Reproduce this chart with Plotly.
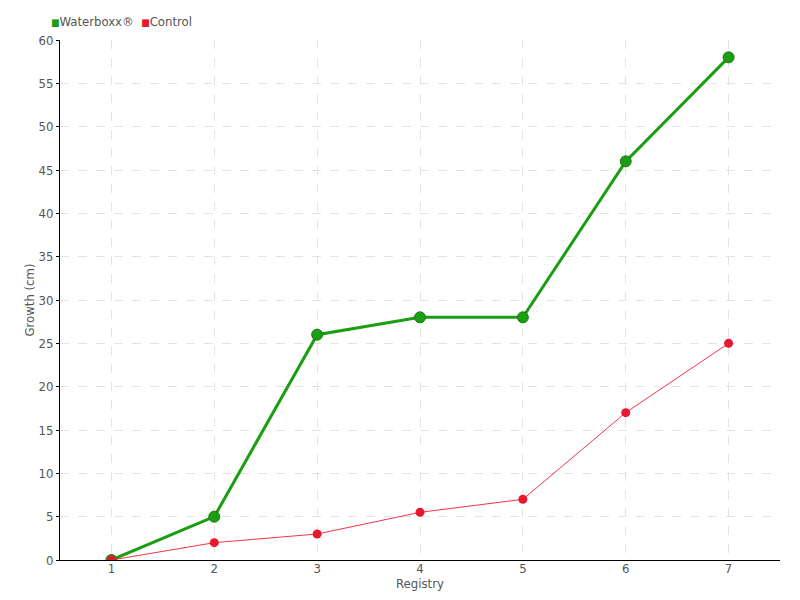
import plotly.graph_objects as go

registry = [1, 2, 3, 4, 5, 6, 7]
waterboxx = [0, 5, 26, 28, 28, 46, 58]
control = [0, 2, 3, 5.5, 7, 17, 25]

GREEN = "#1c9e12"
RED = "#e8192c"

fig = go.Figure()
fig.add_trace(go.Scatter(
    x=registry, y=waterboxx, name="Waterboxx®", mode="lines+markers",
    line=dict(color=GREEN, width=3),
    marker=dict(size=11, color=GREEN, line=dict(color="#167a0e", width=1), symbol="circle"),
))
fig.add_trace(go.Scatter(
    x=registry, y=control, name="Control", mode="lines+markers",
    line=dict(color="#f0364a", width=1),
    marker=dict(size=9, color=RED),
))

font = "DejaVu Sans Condensed, Roboto Condensed, sans-serif"
fig.update_layout(
    width=800, height=600,
    margin=dict(l=52, r=28, t=32, b=48),
    plot_bgcolor="white", paper_bgcolor="white",
    font=dict(family=font, size=13, color="#555555"),
    showlegend=False,
    annotations=[dict(
        text=f"<span style='color:{GREEN};font-size:10px'>■</span>Waterboxx®  "
             f"<span style='color:{RED};font-size:10px'>■</span>Control",
        xref="paper", yref="paper", x=-0.015, y=1.0, yshift=19,
        xanchor="left", yanchor="middle", showarrow=False,
        font=dict(size=13, color="#555555"),
    )],
    xaxis=dict(
        range=[0.5, 7.5], tickvals=registry, ticktext=[str(v) for v in registry],
        showgrid=True, gridcolor="#e3e3e3", griddash="dash", gridwidth=1,
        showline=True, linecolor="black", linewidth=1,
        ticks="", ticklen=0, ticklabelstandoff=-4,
        zeroline=False, automargin=False,
        title=dict(text="Registry", standoff=0, font=dict(size=13)),
    ),
    yaxis=dict(
        range=[0, 60], dtick=5,
        showgrid=True, gridcolor="#e3e3e3", griddash="dash", gridwidth=1,
        showline=True, linecolor="black", linewidth=1,
        ticks="outside", ticklen=3, tickcolor="black",
        zeroline=False, automargin=False,
        title=dict(text="Growth (cm)", standoff=0, font=dict(size=13)),
    ),
)
fig.write_html("out.html")
